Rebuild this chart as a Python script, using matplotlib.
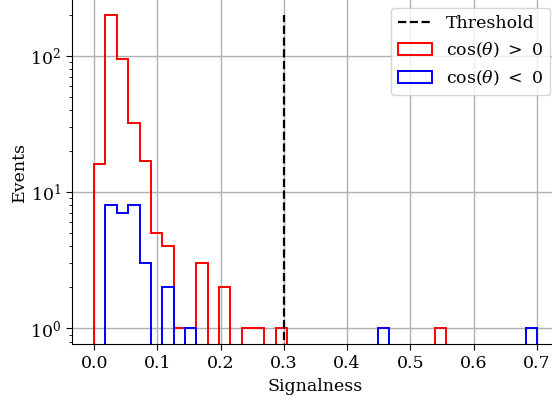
import numpy as np
import matplotlib
matplotlib.use("Agg")
import matplotlib.pyplot as plt

# histogram edges: 39 bins from 0 to 0.7
bin_edges = np.linspace(0.0, 0.7, 40)

# counts per bin
red_counts = [16, 200, 95, 32, 17, 5, 4, 1, 0, 3, 0, 2, 0, 1, 1, 0, 1] + [0] * 13 + [1] + [0] * 8
blue_counts = [0, 8, 7, 8, 3, 0, 2, 0, 1] + [0] * 16 + [1] + [0] * 12 + [1]

threshold = 0.3
threshold_top = 200

plt.rcParams["font.family"] = "DejaVu Serif"
plt.rcParams["font.size"] = 12.5
plt.rcParams["mathtext.fontset"] = "dejavuserif"

fig = plt.figure(figsize=(5.52, 3.98), dpi=100)
ax = fig.add_axes([72 / 552, 1 - 344 / 398, 487 / 552, 344.8 / 398])

centers = 0.5 * (bin_edges[:-1] + bin_edges[1:])
ax.vlines(threshold, 0, threshold_top, colors="black", linestyles="--",
          linewidth=1.6, label="Threshold", zorder=3)
ax.hist(centers, bins=bin_edges, weights=red_counts, histtype="step",
        color="red", linewidth=1.4, log=True, label=r"$\cos(\theta)\ >\ 0$")
ax.hist(centers, bins=bin_edges, weights=blue_counts, histtype="step",
        color="blue", linewidth=1.4, log=True, label=r"$\cos(\theta)\ <\ 0$")

ax.set_xlabel("Signalness")
ax.set_ylabel("Events", labelpad=1.5)
ax.set_xticks(np.arange(0, 0.71, 0.1))
ax.grid(True, color="#b0b0b0", linewidth=1.0)
ax.set_axisbelow(True)
ax.spines["top"].set_visible(False)
ax.spines["right"].set_visible(False)
ax.tick_params(which="major", length=4.5)
ax.tick_params(which="minor", length=2.5)
ax.legend(loc="upper right", fontsize=12.5)

fig.savefig("out.png", dpi=100)
